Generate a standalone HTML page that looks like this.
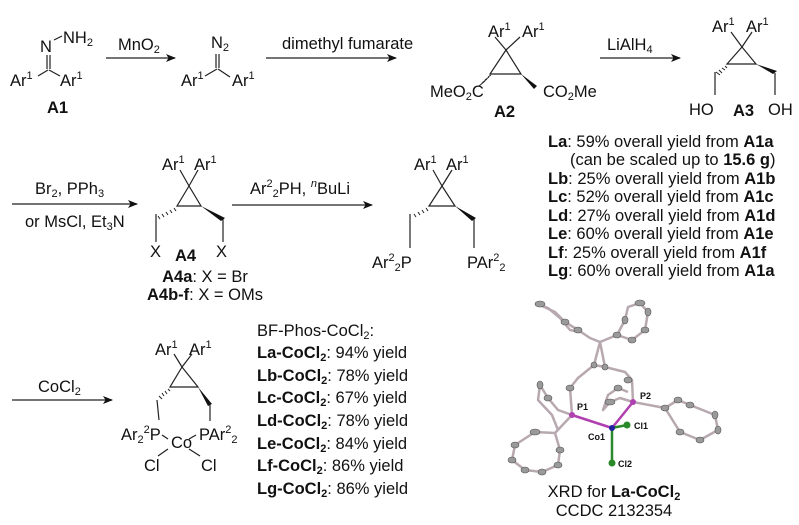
<!DOCTYPE html>
<html><head><meta charset="utf-8"><style>
html,body{margin:0;padding:0;background:#fff}
svg{display:block}
text{font-family:"Liberation Sans",Arial,sans-serif;fill:#111}
.s{font-size:16.5px}
.b{font-weight:bold}
.y{font-size:16.5px}
.sm{font-size:9px;font-weight:bold}
</style></head><body>
<svg width="799" height="525" viewBox="0 0 799 525" xmlns="http://www.w3.org/2000/svg">
<defs>
<marker id="ah" markerWidth="10" markerHeight="8" refX="9" refY="4" orient="auto" markerUnits="userSpaceOnUse"><path d="M0,0 L10,4 L0,8 L2.5,4Z" fill="#111"/></marker>
</defs>
<g stroke="#222" stroke-width="1.2" fill="none">
<line x1="47" y1="55" x2="47" y2="69"/><line x1="50" y1="55" x2="50" y2="69"/>
<line x1="38" y1="76" x2="48" y2="70"/><line x1="49" y1="70" x2="60" y2="76"/>
<line x1="54" y1="40" x2="62" y2="36"/>
<line x1="106" y1="58" x2="175" y2="58" marker-end="url(#ah)"/>
<line x1="266" y1="58" x2="396" y2="58" marker-end="url(#ah)"/>
<line x1="600" y1="58" x2="680" y2="58" marker-end="url(#ah)"/>
<line x1="12" y1="204" x2="137" y2="204" marker-end="url(#ah)"/>
<line x1="232" y1="205" x2="372" y2="205" marker-end="url(#ah)"/>
<line x1="12" y1="400" x2="112" y2="400" marker-end="url(#ah)"/>
<line x1="216" y1="54" x2="216" y2="68"/><line x1="219" y1="54" x2="219" y2="68"/>
<line x1="205" y1="76" x2="217" y2="69"/><line x1="218" y1="69" x2="230" y2="77"/>
<line x1="495" y1="37" x2="506" y2="50"/><line x1="520" y1="37" x2="506" y2="50"/>
<path d="M506,50 L490,74 L521,74 Z"/>
<line x1="731" y1="32" x2="742" y2="47"/><line x1="752" y1="32" x2="742" y2="47"/>
<path d="M742,47 L727,64 L756,64 Z"/>
<line x1="715" y1="72" x2="715" y2="95"/><line x1="775" y1="73" x2="775" y2="95"/>
<line x1="180" y1="170" x2="189" y2="186"/><line x1="198" y1="170" x2="189" y2="186"/>
<path d="M189,186 L177,206 L201,206 Z"/>
<line x1="156" y1="214" x2="156" y2="242"/><line x1="223" y1="219" x2="223" y2="242"/>
<line x1="433" y1="170" x2="442" y2="186"/><line x1="452" y1="170" x2="442" y2="186"/>
<path d="M442,186 L429,206 L455,206 Z"/>
<line x1="410" y1="214" x2="410" y2="248"/><line x1="474" y1="219" x2="474" y2="248"/>
<line x1="174" y1="354" x2="182" y2="367"/><line x1="192" y1="354" x2="182" y2="367"/>
<path d="M182,367 L170,387 L198,387 Z"/>
<line x1="157" y1="400" x2="159" y2="420"/><line x1="210" y1="405" x2="210" y2="421"/>
<line x1="162" y1="435" x2="168" y2="439"/><line x1="189" y1="439" x2="196" y2="435"/>
<line x1="158" y1="456" x2="168" y2="449"/><line x1="189" y1="449" x2="200" y2="456"/>
</g>
<g fill="#111">
<path d="M521,74 L537,86 L534,89 Z"/>
<path d="M756,64 L773,74 L777,71 Z"/>
<path d="M201,206 L221,221 L225,218 Z"/>
<path d="M455,206 L472,221 L476,218 Z"/>
<path d="M198,387 L208,406 L212,404 Z"/>
</g>
<g stroke="#222" stroke-width="1">
<path d="M488,77 l3,-2 M485,80 l4,-3 M482,83 l5,-4 M479,86 l6,-5"/>
<path d="M725,66 l2,2 M722,68 l3,2 M719,70 l3,3 M716,72 l4,3"/>
<path d="M174,208 l2,3 M170,210 l2,3 M166,212 l2,3 M162,214 l2,3 M158,216 l2,3"/>
<path d="M426,208 l2,3 M422,210 l2,3 M418,212 l2,3 M414,214 l2,3"/>
<path d="M168,389 l2,2 M165,391 l2,3 M162,393 l2,3 M159,396 l3,3"/>
</g>
<text class="s" x="40" y="52">N</text>
<text class="s" x="63" y="43">NH<tspan font-size="11" dy="3">2</tspan></text>
<text class="s" x="10" y="86">Ar<tspan font-size="11" dy="-7">1</tspan></text>
<text class="s" x="60" y="86">Ar<tspan font-size="11" dy="-7">1</tspan></text>
<text class="s b" x="47" y="113">A1</text>
<text class="s" x="118" y="50">MnO<tspan font-size="11" dy="3">2</tspan></text>
<text class="s" x="211" y="48">N<tspan font-size="11" dy="3">2</tspan></text>
<text class="s" x="181" y="86">Ar<tspan font-size="11" dy="-7">1</tspan></text>
<text class="s" x="232" y="86">Ar<tspan font-size="11" dy="-7">1</tspan></text>
<text class="s" x="282" y="49">dimethyl fumarate</text>
<text class="s" x="488" y="37">Ar<tspan font-size="11" dy="-7">1</tspan></text>
<text class="s" x="522" y="37">Ar<tspan font-size="11" dy="-7">1</tspan></text>
<text class="s" x="430" y="97">MeO<tspan font-size="11" dy="3">2</tspan><tspan dy="-3">C</tspan></text>
<text class="s" x="543" y="97">CO<tspan font-size="11" dy="3">2</tspan><tspan dy="-3">Me</tspan></text>
<text class="s b" x="494" y="117">A2</text>
<text class="s" x="607" y="50">LiAlH<tspan font-size="11" dy="3">4</tspan></text>
<text class="s" x="712" y="32">Ar<tspan font-size="11" dy="-7">1</tspan></text>
<text class="s" x="746" y="32">Ar<tspan font-size="11" dy="-7">1</tspan></text>
<text class="s" x="689" y="115">HO</text>
<text class="s b" x="733" y="116">A3</text>
<text class="s" x="768" y="115">OH</text>
<text class="s" x="35" y="194">Br<tspan font-size="11" dy="3">2</tspan><tspan dy="-3">, PPh</tspan><tspan font-size="11" dy="3">3</tspan></text>
<text class="s" x="25" y="227">or MsCl, Et<tspan font-size="11" dy="3">3</tspan><tspan dy="-3">N</tspan></text>
<text class="s" x="162" y="170">Ar<tspan font-size="11" dy="-7">1</tspan></text>
<text class="s" x="194" y="170">Ar<tspan font-size="11" dy="-7">1</tspan></text>
<text class="s" x="150" y="257">X</text>
<text class="s b" x="175" y="261">A4</text>
<text class="s" x="216" y="257">X</text>
<text class="s" x="205" y="282" text-anchor="middle"><tspan font-weight="bold">A4a</tspan>: X = Br</text>
<text class="s" x="205" y="300" text-anchor="middle"><tspan font-weight="bold">A4b-f</tspan>: X = OMs</text>
<text class="s" x="250" y="194">Ar<tspan font-size="11" dy="-7">2</tspan><tspan font-size="11" dy="10">2</tspan><tspan dy="-3">PH, </tspan><tspan font-size="11" dy="-7" font-style="italic">n</tspan><tspan dy="7">BuLi</tspan></text>
<text class="s" x="414" y="170">Ar<tspan font-size="11" dy="-7">1</tspan></text>
<text class="s" x="446" y="170">Ar<tspan font-size="11" dy="-7">1</tspan></text>
<text class="s" x="372" y="268">Ar<tspan font-size="11" dy="-7">2</tspan><tspan font-size="11" dy="10">2</tspan><tspan dy="-3">P</tspan></text>
<text class="s" x="467" y="268">PAr<tspan font-size="11" dy="-7">2</tspan><tspan font-size="11" dy="10">2</tspan></text>
<g class="y">
<text x="548" y="147"><tspan font-weight="bold">La</tspan>: 59% overall yield from <tspan font-weight="bold">A1a</tspan></text>
<text x="570" y="165">(can be scaled up to <tspan font-weight="bold">15.6 g</tspan>)</text>
<text x="548" y="184"><tspan font-weight="bold">Lb</tspan>: 25% overall yield from <tspan font-weight="bold">A1b</tspan></text>
<text x="548" y="202"><tspan font-weight="bold">Lc</tspan>: 52% overall yield from <tspan font-weight="bold">A1c</tspan></text>
<text x="548" y="221"><tspan font-weight="bold">Ld</tspan>: 27% overall yield from <tspan font-weight="bold">A1d</tspan></text>
<text x="548" y="239"><tspan font-weight="bold">Le</tspan>: 60% overall yield from <tspan font-weight="bold">A1e</tspan></text>
<text x="548" y="258"><tspan font-weight="bold">Lf</tspan>: 25% overall yield from <tspan font-weight="bold">A1f</tspan></text>
<text x="548" y="276"><tspan font-weight="bold">Lg</tspan>: 60% overall yield from <tspan font-weight="bold">A1a</tspan></text>
</g>
<text class="s" x="38" y="392">CoCl<tspan font-size="11" dy="3">2</tspan></text>
<text class="s" x="155" y="355">Ar<tspan font-size="11" dy="-7">1</tspan></text>
<text class="s" x="189" y="355">Ar<tspan font-size="11" dy="-7">1</tspan></text>
<text class="s" x="121" y="440">Ar<tspan font-size="11" dy="3">2</tspan><tspan font-size="11" dy="-10">2</tspan><tspan dy="7">P</tspan></text>
<text class="s" x="171" y="448">Co</text>
<text class="s" x="199" y="440">PAr<tspan font-size="11" dy="-7">2</tspan><tspan font-size="11" dy="10">2</tspan></text>
<text class="s" x="144" y="471">Cl</text>
<text class="s" x="201" y="471">Cl</text>
<g class="y">
<text x="257" y="336">BF-Phos-CoCl<tspan font-size="11" dy="3">2</tspan><tspan dy="-3">:</tspan></text>
<text x="257" y="358"><tspan font-weight="bold">La-CoCl</tspan><tspan font-weight="bold" font-size="11" dy="3">2</tspan><tspan dy="-3">: 94% yield</tspan></text>
<text x="257" y="381"><tspan font-weight="bold">Lb-CoCl</tspan><tspan font-weight="bold" font-size="11" dy="3">2</tspan><tspan dy="-3">: 78% yield</tspan></text>
<text x="257" y="403"><tspan font-weight="bold">Lc-CoCl</tspan><tspan font-weight="bold" font-size="11" dy="3">2</tspan><tspan dy="-3">: 67% yield</tspan></text>
<text x="257" y="426"><tspan font-weight="bold">Ld-CoCl</tspan><tspan font-weight="bold" font-size="11" dy="3">2</tspan><tspan dy="-3">: 78% yield</tspan></text>
<text x="257" y="449"><tspan font-weight="bold">Le-CoCl</tspan><tspan font-weight="bold" font-size="11" dy="3">2</tspan><tspan dy="-3">: 84% yield</tspan></text>
<text x="257" y="471"><tspan font-weight="bold">Lf-CoCl</tspan><tspan font-weight="bold" font-size="11" dy="3">2</tspan><tspan dy="-3">: 86% yield</tspan></text>
<text x="257" y="494"><tspan font-weight="bold">Lg-CoCl</tspan><tspan font-weight="bold" font-size="11" dy="3">2</tspan><tspan dy="-3">: 86% yield</tspan></text>
</g>
<g stroke="#b8a8b0" stroke-width="2.5" fill="none" stroke-linejoin="round">
<path d="M540,305 L555,312 L565,322 L578,330 L590,338 L600,342"/>
<path d="M535,303 L548,308 L560,318 L570,330 L580,332"/>
<path d="M600,342 L617,335 L625,320 L628,307 L640,303 L648,312 L645,330 L632,340 L617,335"/>
<path d="M600,342 L594,365 L605,367 L600,342"/>
<path d="M594,365 L578,378 L570,388 L572,415"/>
<path d="M605,367 L625,372 L632,380 L633,402"/>
<path d="M572,415 L558,410 L548,398 L540,385 L538,400 L552,415 L558,430"/>
<path d="M572,415 L555,433 L535,432 L515,445 L512,460 L525,470 L542,472 L558,465 L560,450 L555,433"/>
<path d="M633,402 L620,398 L610,402 L603,410 L608,395 L618,388 L628,392"/>
<path d="M633,402 L665,408 L678,400 L690,405 L715,415 L718,430 L700,440 L680,432 L665,408"/>
</g>
<g fill="#9a9a9a" stroke="#555" stroke-width="0.6">
<ellipse cx="540" cy="304" rx="5" ry="3"/><ellipse cx="565" cy="322" rx="4" ry="3"/><ellipse cx="578" cy="330" rx="4" ry="3"/>
<ellipse cx="617" cy="335" rx="4" ry="3"/><ellipse cx="625" cy="320" rx="3" ry="4"/><ellipse cx="640" cy="303" rx="5" ry="3"/><ellipse cx="648" cy="312" rx="3" ry="4"/><ellipse cx="645" cy="330" rx="4" ry="3"/><ellipse cx="632" cy="340" rx="4" ry="3"/>
<ellipse cx="594" cy="365" rx="3" ry="3"/><ellipse cx="605" cy="367" rx="3" ry="3"/><ellipse cx="570" cy="388" rx="4" ry="3"/>
<ellipse cx="628" cy="380" rx="4" ry="3"/><ellipse cx="548" cy="398" rx="4" ry="3"/><ellipse cx="540" cy="385" rx="3" ry="4"/>
<ellipse cx="535" cy="432" rx="5" ry="3"/><ellipse cx="515" cy="445" rx="4" ry="3"/><ellipse cx="512" cy="460" rx="4" ry="3"/><ellipse cx="525" cy="470" rx="4" ry="3"/><ellipse cx="542" cy="472" rx="4" ry="3"/><ellipse cx="558" cy="465" rx="4" ry="3"/><ellipse cx="560" cy="450" rx="4" ry="3"/>
<ellipse cx="610" cy="402" rx="5" ry="3"/><ellipse cx="618" cy="388" rx="4" ry="3"/>
<ellipse cx="665" cy="408" rx="4" ry="3"/><ellipse cx="678" cy="400" rx="4" ry="3"/><ellipse cx="690" cy="405" rx="4" ry="3"/><ellipse cx="715" cy="415" rx="3" ry="4"/><ellipse cx="718" cy="430" rx="3" ry="4"/><ellipse cx="700" cy="440" rx="4" ry="3"/><ellipse cx="680" cy="432" rx="4" ry="3"/>
</g>
<g stroke-width="2.5">
<line x1="572" y1="415" x2="612" y2="428" stroke="#b040b0"/>
<line x1="633" y1="402" x2="612" y2="428" stroke="#b040b0"/>
<line x1="612" y1="428" x2="612" y2="463" stroke="#2a8a2a"/>
<line x1="612" y1="428" x2="627" y2="425" stroke="#2a8a2a"/>
</g>
<circle cx="612" cy="428" r="3" fill="#2020a0"/>
<circle cx="627" cy="425" r="3.5" fill="#2a8a2a"/>
<circle cx="612" cy="463" r="3.5" fill="#2a8a2a"/>
<circle cx="572" cy="415" r="3" fill="#b040b0"/>
<circle cx="633" cy="402" r="3" fill="#b040b0"/>
<text class="sm" x="577" y="410">P1</text>
<text class="sm" x="640" y="399">P2</text>
<text class="sm" x="634" y="429">Cl1</text>
<text class="sm" x="588" y="440">Co1</text>
<text class="sm" x="618" y="467">Cl2</text>
<text class="s" x="614" y="497" text-anchor="middle">XRD for <tspan font-weight="bold">La-CoCl</tspan><tspan font-weight="bold" font-size="11" dy="3">2</tspan></text>
<text class="s" x="614" y="516" text-anchor="middle">CCDC 2132354</text>
</svg>
</body></html>
